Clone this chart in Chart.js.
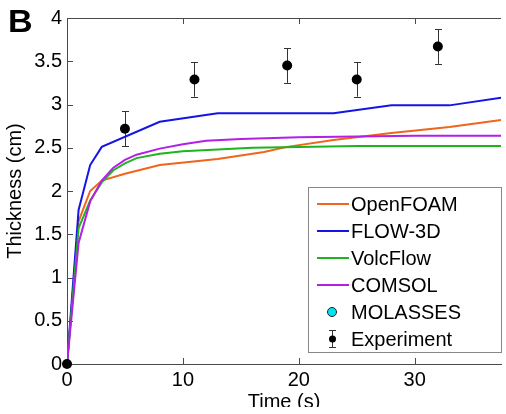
<!DOCTYPE html>
<html><head><meta charset="utf-8">
<script src="https://cdn.jsdelivr.net/npm/chart.js@4/dist/chart.umd.min.js"></script>
<style>
html,body{margin:0;padding:0;overflow:hidden;background:#fff;width:506px;height:414px}
#wrap{position:relative;width:506px;height:407px;overflow:hidden}
canvas{position:absolute;left:0;top:0}
</style></head><body>
<div id="wrap"><canvas id="c" width="506" height="430"></canvas></div>
<script>
// ---- data ----
const seriesNames = ['OpenFOAM', 'FLOW-3D', 'VolcFlow', 'COMSOL', 'MOLASSES', 'Experiment'];
const openfoamT = [0, 1, 2, 3, 5, 8, 13, 15, 17, 19, 23, 28, 33, 38];
const openfoamY = [0, 1.65, 2.0, 2.12, 2.2, 2.3, 2.37, 2.41, 2.45, 2.51, 2.59, 2.67, 2.74, 2.83];
const flow3dT = [0, 1, 2, 3, 8, 13, 23, 28, 33, 38];
const flow3dY = [0, 1.78, 2.3, 2.51, 2.8, 2.9, 2.9, 2.99, 2.99, 3.09];
const volcflowT = [0, 1, 2, 3, 4, 5, 6, 8, 10, 13, 16, 20, 25, 30, 38];
const volcflowY = [0, 1.57, 1.89, 2.1, 2.24, 2.32, 2.38, 2.43, 2.46, 2.48, 2.5, 2.51, 2.52, 2.52, 2.52];
const comsolT = [0, 1, 2, 3, 4, 5, 6, 8, 10, 12, 15, 20, 25, 30, 38];
const comsolY = [0, 1.4, 1.88, 2.12, 2.27, 2.36, 2.42, 2.49, 2.54, 2.58, 2.6, 2.62, 2.63, 2.64, 2.64];
const molassesT = [];
const molassesY = [];
const expT = [0, 5, 11, 19, 25, 32];
const expY = [0, 2.72, 3.29, 3.45, 3.29, 3.67];
const expErr = [0, 0.2, 0.2, 0.2, 0.2, 0.2];
const xTicks = [0, 10, 20, 30];
const yTicks = [0, 0.5, 1, 1.5, 2, 2.5, 3, 3.5, 4];

const colors = ['#f0641e', '#1414e6', '#1eb41e', '#b41ee6', '#00e6f0', '#000000'];
const FONT = '"Liberation Sans", Arial, Helvetica, sans-serif';

function pts(t, y) { return t.map((v, i) => ({x: v, y: y[i]})); }

const lineDs = (i, t, y) => ({
  label: seriesNames[i], data: pts(t, y), borderColor: colors[i], backgroundColor: colors[i],
  borderWidth: 2, pointRadius: 0, tension: 0, showLine: true, order: 10 - i
});

const datasets = [
  lineDs(0, openfoamT, openfoamY),
  lineDs(1, flow3dT, flow3dY),
  lineDs(2, volcflowT, volcflowY),
  lineDs(3, comsolT, comsolY),
  {label: seriesNames[4], data: pts(molassesT, molassesY), showLine: false, pointRadius: 5,
   backgroundColor: colors[4], borderColor: '#222', borderWidth: 1},
  {label: seriesNames[5], data: pts(expT, expY), showLine: false, pointRadius: 5,
   backgroundColor: '#000', borderColor: '#000', borderWidth: 0, clip: false, order: 0}
];

const AXIS = '#4a4a4a';

const decor = {
  id: 'decor',
  beforeDatasetsDraw(chart) {
    const {ctx, chartArea: a, scales: {x, y}} = chart;
    ctx.save();
    ctx.strokeStyle = AXIS; ctx.lineWidth = 1;
    ctx.beginPath();
    ctx.moveTo(a.left, a.top + 0.5); ctx.lineTo(a.right, a.top + 0.5);
    xTicks.forEach(v => {
      if (v === 0) return;
      const px = Math.round(x.getPixelForValue(v)) + 0.5;
      ctx.moveTo(px, a.bottom); ctx.lineTo(px, a.bottom - 6);
      ctx.moveTo(px, a.top); ctx.lineTo(px, a.top + 6);
    });
    yTicks.forEach(v => {
      const py = Math.round(y.getPixelForValue(v)) + 0.5;
      ctx.moveTo(a.left, py); ctx.lineTo(a.left + 6, py);
    });
    ctx.stroke();
    // error bars
    ctx.strokeStyle = '#333';
    ctx.beginPath();
    expT.forEach((t, i) => {
      if (!expErr[i]) return;
      const px = Math.round(x.getPixelForValue(t)) + 0.5;
      const y1 = y.getPixelForValue(expY[i] + expErr[i]);
      const y2 = y.getPixelForValue(expY[i] - expErr[i]);
      ctx.moveTo(px, y1); ctx.lineTo(px, y2);
      ctx.moveTo(px - 3.5, Math.round(y1) + 0.5); ctx.lineTo(px + 3.5, Math.round(y1) + 0.5);
      ctx.moveTo(px - 3.5, Math.round(y2) + 0.5); ctx.lineTo(px + 3.5, Math.round(y2) + 0.5);
    });
    ctx.stroke();
    ctx.restore();
  },
  afterDraw(chart) {
    const {ctx} = chart;
    ctx.save();
    // panel letter
    ctx.fillStyle = '#000';
    ctx.font = 'bold 31px ' + FONT;
    ctx.textBaseline = 'alphabetic';
    ctx.textAlign = 'left';
    ctx.save();
    ctx.translate(8, 32);
    ctx.scale(1.1, 1);
    ctx.fillText('B', 0, 0);
    ctx.restore();
    // legend box
    const bx = 308.5, by = 187.5, bw = 193, bh = 165;
    ctx.fillStyle = '#fff';
    ctx.fillRect(bx, by, bw, bh);
    ctx.strokeStyle = '#888'; ctx.lineWidth = 1;
    ctx.strokeRect(bx, by, bw, bh);
    const rowY = [204, 231, 258, 285, 312, 339];
    ctx.font = '20px ' + FONT;
    ctx.textBaseline = 'middle';
    seriesNames.forEach((name, i) => {
      const ry = rowY[i];
      if (i < 4) {
        ctx.strokeStyle = colors[i]; ctx.lineWidth = 2;
        ctx.beginPath(); ctx.moveTo(317, ry); ctx.lineTo(349, ry); ctx.stroke();
      } else if (i === 4) {
        ctx.fillStyle = colors[4]; ctx.strokeStyle = '#222'; ctx.lineWidth = 1;
        ctx.beginPath(); ctx.arc(332, ry, 4.5, 0, Math.PI * 2); ctx.fill(); ctx.stroke();
      } else {
        ctx.strokeStyle = '#333'; ctx.lineWidth = 1;
        ctx.beginPath();
        ctx.moveTo(332.5, ry - 9); ctx.lineTo(332.5, ry + 9);
        ctx.moveTo(329, ry - 8.5); ctx.lineTo(336, ry - 8.5);
        ctx.moveTo(329, ry + 8.5); ctx.lineTo(336, ry + 8.5);
        ctx.stroke();
        ctx.fillStyle = '#000';
        ctx.beginPath(); ctx.arc(332.5, ry, 3.5, 0, Math.PI * 2); ctx.fill();
      }
      ctx.fillStyle = '#000';
      ctx.fillText(name, 351, ry + 1);
    });
    ctx.restore();
  }
};

new Chart(document.getElementById('c'), {
  type: 'scatter',
  data: {datasets},
  options: {
    responsive: false, animation: false, devicePixelRatio: 1,
    layout: {padding: {top: 18, left: 0, right: 0, bottom: 0}},
    plugins: {legend: {display: false}, tooltip: {enabled: false}},
    scales: {
      x: {
        type: 'linear', min: 0, max: 37.45,
        afterFit(s) { s.height = 66; },
        afterBuildTicks(s) { s.ticks = xTicks.map(v => ({value: v})); },
        ticks: {font: {family: FONT, size: 20}, color: '#000', padding: 4, maxRotation: 0,
                callback: v => String(v)},
        grid: {drawOnChartArea: false, drawTicks: false},
        border: {color: AXIS, width: 1},
        title: {display: true, text: 'Time (s)', font: {family: FONT, size: 20}, color: '#000', padding: {top: 0, bottom: 16}}
      },
      y: {
        type: 'linear', min: 0, max: 4,
        afterFit(s) { s.width = 67; },
        afterBuildTicks(s) { s.ticks = yTicks.map(v => ({value: v})); },
        ticks: {font: {family: FONT, size: 20}, color: '#000', padding: 5,
                callback: v => String(v)},
        grid: {drawOnChartArea: false, drawTicks: false},
        border: {color: AXIS, width: 1},
        title: {display: true, text: 'Thickness (cm)', font: {family: FONT, size: 20}, color: '#000', padding: {top: 3, bottom: 0}}
      }
    }
  },
  plugins: [decor]
});
</script>
</body></html>
